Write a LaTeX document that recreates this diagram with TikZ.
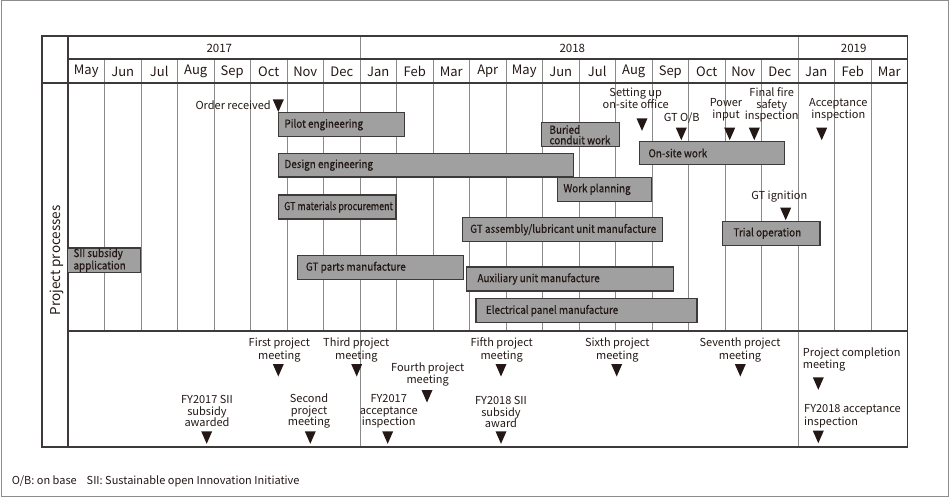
\documentclass[tikz,border=0pt]{standalone}
\usepackage{graphicx}
\usepackage{fontspec}
\setmainfont{Noto Sans CJK JP}
\newfontfamily\barfont{Noto Sans CJK JP}[FakeStretch=0.9, FakeBold=0.5]
\definecolor{ink}{HTML}{231815}
\definecolor{barfill}{HTML}{A0A0A0}
\definecolor{barline}{HTML}{3E3A39}
\definecolor{gridcol}{HTML}{8A8A8A}
\definecolor{framecol}{HTML}{8C8C8C}
\tikzset{
  bar/.style={draw=barline, fill=barfill, line width=1.2pt, outer sep=0pt, inner sep=0pt, anchor=north west},
  barlabel/.style={anchor=west, inner sep=0pt, align=left, text=ink, font=\barfont\fontsize{11}{10.5}\selectfont},
  ms/.style={align=center, inner sep=0pt, text=ink, font=\fontsize{11}{12.3}\selectfont},
  msl/.style={align=left, inner sep=0pt, text=ink, font=\fontsize{11}{12.3}\selectfont, anchor=west},
  gridline/.style={draw=gridcol, line width=0.8pt},
  tabline/.style={draw=barline, line width=1.2pt},
  month/.style={inner sep=0pt, text=ink, font=\fontsize{13}{14}\selectfont},
  year/.style={inner sep=0pt, text=ink, font=\fontsize{11.5}{13}\selectfont},
}
\newcommand\gbar[7]{%
  \pgfmathsetmacro\gw{#4-#2}\pgfmathsetmacro\gh{#5-#3}%
  \node[bar, minimum width=\gw pt, minimum height=\gh pt] (#1) at (#2,#3) {};
  \node[barlabel] (#1-text) at ([xshift=#6pt]#1.west) {#7};}
\newcommand\mtri[2]{\fill[ink] (#1-5.5,#2) -- (#1+5.5,#2) -- (#1,#2+12.5) -- cycle;}
\begin{document}
\begin{tikzpicture}[x=1pt,y=-1pt]
\useasboundingbox (0,0) rectangle (950,497);
\draw[framecol, line width=1pt] (1,1) rectangle (948.5,496);
% grid
\foreach \i in {1,...,22}{
  \pgfmathsetmacro\xx{68+36.5*\i}
  \ifnum\i=8\relax
    \draw[gridline] (\xx,36) -- (\xx,447);
  \else\ifnum\i=20\relax
    \draw[gridline] (\xx,36) -- (\xx,447);
  \else
    \draw[gridline] (\xx,59) -- (\xx,331);
  \fi\fi
}
\draw[tabline] (68,59) -- (907.5,59);
\draw[tabline] (42,83) -- (907.5,83);
\draw[tabline] (68,331) -- (907.5,331);
\draw[tabline] (68,36) -- (68,447);
\draw[tabline] (42,36) rectangle (907.5,447);
% years
\node[year] (y17) at (219.3,48.3) {2017};
\node[year] (y18) at (572.3,48.3) {2018};
\node[year] (y19) at (853.7,48.3) {2019};
% months
\foreach \m [count=\k from 0] in {May,Jun,Jul,Aug,Sep,Oct,Nov,Dec,Jan,Feb,Mar,Apr,May,Jun,Jul,Aug,Sep,Oct,Nov,Dec,Jan,Feb,Mar}{
  \node[month] (m\k) at ({68+36.5*(\k+0.5)},71.7) {\m};
}
% side label
\node[rotate=90, inner sep=0pt, text=ink, font=\fontsize{13.5}{15}\selectfont] (side) at (56.7,260.3) {Project processes};
% bars
\gbar{pilot}{278.3}{112.7}{404.3}{136.7}{6}{Pilot engineering}
\gbar{design}{278.3}{153.3}{573.7}{177}{6}{Design engineering}
\gbar{gtmat}{278.3}{195}{396}{219}{5.7}{\scalebox{0.9}[1]{GT materials procurement}}
\gbar{gtasm}{462.3}{217.7}{662.7}{241.7}{7.7}{GT assembly/lubricant unit manufacture}
\gbar{buried}{541.7}{122.7}{619.3}{146.7}{7.6}{Buried\\conduit work}
\gbar{onsite}{639.3}{141.7}{784.3}{164.3}{9}{On-site work}
\gbar{workplan}{557.3}{177.3}{651.7}{201.3}{6}{Work planning}
\gbar{trial}{722.3}{221.3}{820}{245.3}{11}{Trial operation}
\gbar{sii}{67.7}{248}{140.7}{272.3}{5.6}{SII subsidy\\application}
\gbar{gtparts}{297.3}{255.3}{463.7}{279.7}{8.4}{GT parts manufacture}
\gbar{aux}{466.7}{267}{673.3}{291}{10.6}{Auxiliary unit manufacture}
\gbar{elec}{476}{298.7}{697}{322.7}{9.7}{Electrical panel manufacture}
% top milestones
\node[ms, anchor=east] (order) at (271,105.3) {Order received};
\mtri{278.3}{99.5}
\node[ms] (office) at (635.7,98.3) {Setting up\\on-site office};
\mtri{642}{118.3}
\node[ms] (gtob) at (681.7,118.3) {GT O/B};
\mtri{681.3}{127.7}
\node[ms] (power) at (726,110) {Power\\input};
\mtri{729.7}{127.7}
\node[ms, font=\fontsize{11}{11.5}\selectfont] (fire) at (771.7,105.3) {Final fire\\safety\\inspection};
\mtri{754.3}{127.7}
\node[ms] (accept) at (838.3,110) {Acceptance\\inspection};
\mtri{821.7}{127.7}
\node[ms] (ignition) at (779.3,196.3) {GT ignition};
\mtri{785.7}{207.7}
% bottom milestones
\node[ms] (pm1) at (279.3,350) {First project\\meeting};
\mtri{278.3}{364}
\node[ms] (pm3) at (356.3,350) {Third project\\meeting};
\mtri{356.7}{364}
\node[ms] (pm4) at (427.7,374.8) {Fourth project\\meeting};
\mtri{427}{390}
\node[ms, font=\fontsize{11}{11.4}\selectfont] (sii17) at (207,411.3) {FY2017 SII\\subsidy\\awarded};
\mtri{206.7}{431.3}
\node[ms, font=\fontsize{11}{11.4}\selectfont] (pm2) at (309,411.3) {Second\\project\\meeting};
\mtri{310.3}{431.3}
\node[ms, font=\fontsize{11}{11.4}\selectfont] (acc17) at (388.7,411.3) {FY2017\\acceptance\\inspection};
\mtri{387.7}{431.3}
\node[ms] (pm5) at (501.7,350) {Fifth project\\meeting};
\mtri{501}{364}
\node[ms] (pm6) at (617.3,350) {Sixth project\\meeting};
\mtri{616.7}{364}
\node[ms] (pm7) at (740,350) {Seventh project\\meeting};
\mtri{740.3}{364}
\node[msl] (pmc) at (802.7,359.7) {Project completion\\meeting};
\mtri{818.3}{377.3}
\node[ms, font=\fontsize{11}{11.4}\selectfont] (sii18) at (501,412.3) {FY2018 SII\\subsidy\\award};
\mtri{501}{431.3}
\node[msl] (acc18) at (804,416.2) {FY2018 acceptance\\inspection};
\mtri{818.3}{430.7}
% footer
\node[inner sep=0pt, anchor=west, text=ink, font=\fontsize{11}{13}\selectfont] (foot) at (11.7,481.3) {O/B: on base\hspace{0.9em}SII: Sustainable open Innovation Initiative};
\end{tikzpicture}
\end{document}
